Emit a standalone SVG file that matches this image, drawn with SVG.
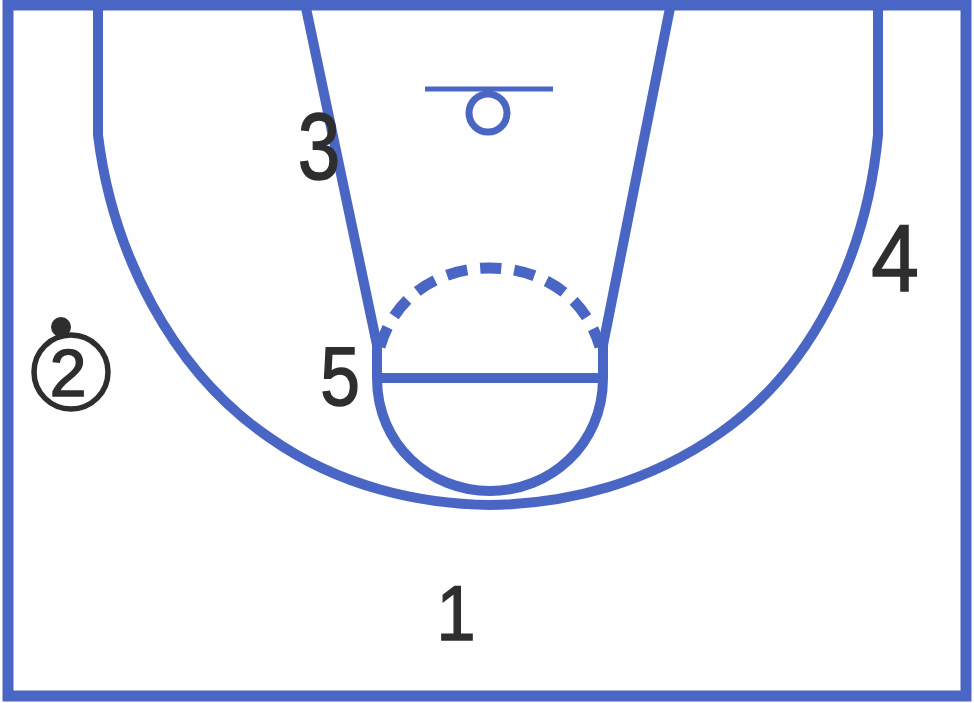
<svg xmlns="http://www.w3.org/2000/svg" width="974" height="703" viewBox="0 0 974 703">
<style>
.l{fill:none;stroke:#4a66c4;stroke-width:11}
.t{fill:none;stroke:#4a66c4;stroke-width:10}
.n{font-family:"Liberation Sans",sans-serif;fill:#2e2e30;stroke:#2e2e30;stroke-width:1.5;text-anchor:middle}
</style>
<rect width="974" height="703" fill="#fefefe"/>
<g id="court">
<rect class="l" x="8" y="5" width="958" height="691"/>
<path class="t" d="M98 8V135C112 250 170 370 270 438C340 487 420 504 490 505C570 504 650 482 720 433C810 370 866 260 878 135V8"/>
<path class="t" d="M306 8L377 345"/>
<path class="t" d="M670 8L603 345"/>
<path class="t" d="M377 345V378C377 445 430 491 490 491C550 491 603 445 603 378V345"/>
<path class="t" d="M377 378H603"/>
<path d="M380 347C395 295 440 268 490 268C540 268 585 295 600 347" fill="none" stroke="#4a66c4" stroke-width="11" stroke-dasharray="21 13"/>
<path d="M425 89H553" fill="none" stroke="#4a66c4" stroke-width="5"/>
<circle cx="488" cy="113" r="19" fill="none" stroke="#4a66c4" stroke-width="7"/>
</g>
<g id="players">
<text class="n" font-size="90" transform="translate(319 179) scale(.85 1.05)">3</text>
<text class="n" font-size="90" transform="translate(895 291) scale(.95 1.05)">4</text>
<text class="n" font-size="84" transform="translate(340 405) scale(.85 1)">5</text>
<text class="n" font-size="78" transform="translate(456 640) scale(.9 1)">1</text>
<circle cx="71" cy="372" r="37" fill="none" stroke="#2e2e30" stroke-width="5.5"/>
<circle cx="61" cy="327" r="10" fill="#2e2e30"/>
<text class="n" font-size="66" transform="translate(68 396)">2</text>
</g>
</svg>
